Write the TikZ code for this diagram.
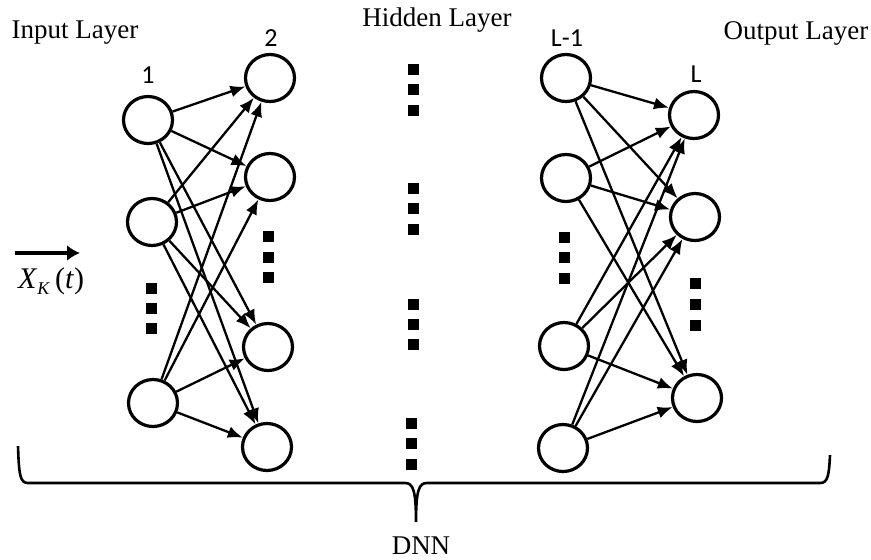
\documentclass[tikz,border=0pt]{standalone}
\usepackage{fontspec}
\setmainfont{Liberation Serif}
\newfontfamily\numfont{Carlito}
\usetikzlibrary{shapes.geometric}
\usetikzlibrary{arrows.meta,arrows}

\begin{document}
\begin{tikzpicture}[x=0.5pt,y=-0.5pt]

\tikzset{vertex/.style = {shape=ellipse,draw,line width=1.6pt,minimum width=24.5pt,minimum height=23.5pt,inner sep=0pt}}
\tikzset{edge/.style = {-{Latex[length=7.5pt,width=6pt]},line width=1.15pt}}
\tikzset{title/.style = {font=\fontsize{13.5}{16}\selectfont}}
\tikzset{num/.style = {font=\numfont\fontsize{13}{15}\selectfont}}

\useasboundingbox (0,0) rectangle (871,559);

\node[title] (tin) at (75,33) {Input Layer};
\node[title] (thid) at (437,20) {Hidden Layer};
\node[title] (tout) at (796,33) {Output Layer};
\node[num] (n1) at (148,75) {1};
\node[num] (n2) at (271,38) {2};
\node[num] (nl1) at (567,38) {L-1};
\node[num] (nl) at (696,74) {L};

\node[vertex] (i1) at (148,120) {};
\node[vertex] (i2) at (152,222) {};
\node[vertex] (i3) at (153,403) {};

\node[vertex] (h1) at (270,78) {};
\node[vertex] (h2) at (270,177) {};
\node[vertex] (h3) at (268,347) {};
\node[vertex] (h4) at (267,447) {};

\node[vertex] (p1) at (566,78) {};
\node[vertex] (p2) at (566,178) {};
\node[vertex] (p3) at (564,346) {};
\node[vertex] (p4) at (563,448) {};

\node[vertex] (o1) at (694,115) {};
\node[vertex] (o2) at (695,217) {};
\node[vertex] (o3) at (697,398) {};

% dots
\foreach \x/\y in {151/288,151/308,151/328, 268/236,268/257,268/277,
  413/69,413/89,413/110, 413/188,413/208,413/229, 413/304,413/324,413/344,
  411/423,411/443,411/464, 564/237,564/257,564/278, 695/283,695/304,695/325}
  \fill (\x-5.5,\y-5.5) rectangle (\x+5.5,\y+5.5);

\draw[edge] (i1) to (h1);
\draw[edge] (i1) to (h2);
\draw[edge] (i1) to (h3);
\draw[edge] (i1) to (h4);
\draw[edge] (i2) to (h1);
\draw[edge] (i2) to (h2);
\draw[edge] (i2) to (h3);
\draw[edge] (i2) to (h4);
\draw[edge] (i3) to (h1);
\draw[edge] (i3) to (h2);
\draw[edge] (i3) to (h3);
\draw[edge] (i3) to (h4);

\draw[edge] (p1) to (o1);
\draw[edge] (p1) to (o2);
\draw[edge] (p1) to (o3);
\draw[edge] (p2) to (o1);
\draw[edge] (p2) to (o2);
\draw[edge] (p2) to (o3);
\draw[edge] (p3) to (o1);
\draw[edge] (p3) to (o2);
\draw[edge] (p3) to (o3);
\draw[edge] (p4) to (o1);
\draw[edge] (p4) to (o2);
\draw[edge] (p4) to (o3);

% input vector
\coordinate (xs) at (15,253);
\coordinate (xe) at (80,253);
\draw[-{Latex[length=6.5pt,width=8pt]},line width=2pt] (xs) -- (xe);
\node[font=\fontsize{15}{18}\selectfont] (xk) at (51,281) {\textit{X}\raisebox{-0.45ex}{\small\textit{K}}\,(\textit{t})};

% brace
\draw[line width=1.3pt] (18,446) .. controls (19,475) and (20,483) .. (28,483) -- (405,483)
  .. controls (413,483) and (416,490) .. (416,522)
  .. controls (416,490) and (419,483) .. (427,483) -- (820,483)
  .. controls (828,483) and (829,475) .. (830,455);
\node[title] (dnn) at (421,546) {DNN};

\end{tikzpicture}
\end{document}
